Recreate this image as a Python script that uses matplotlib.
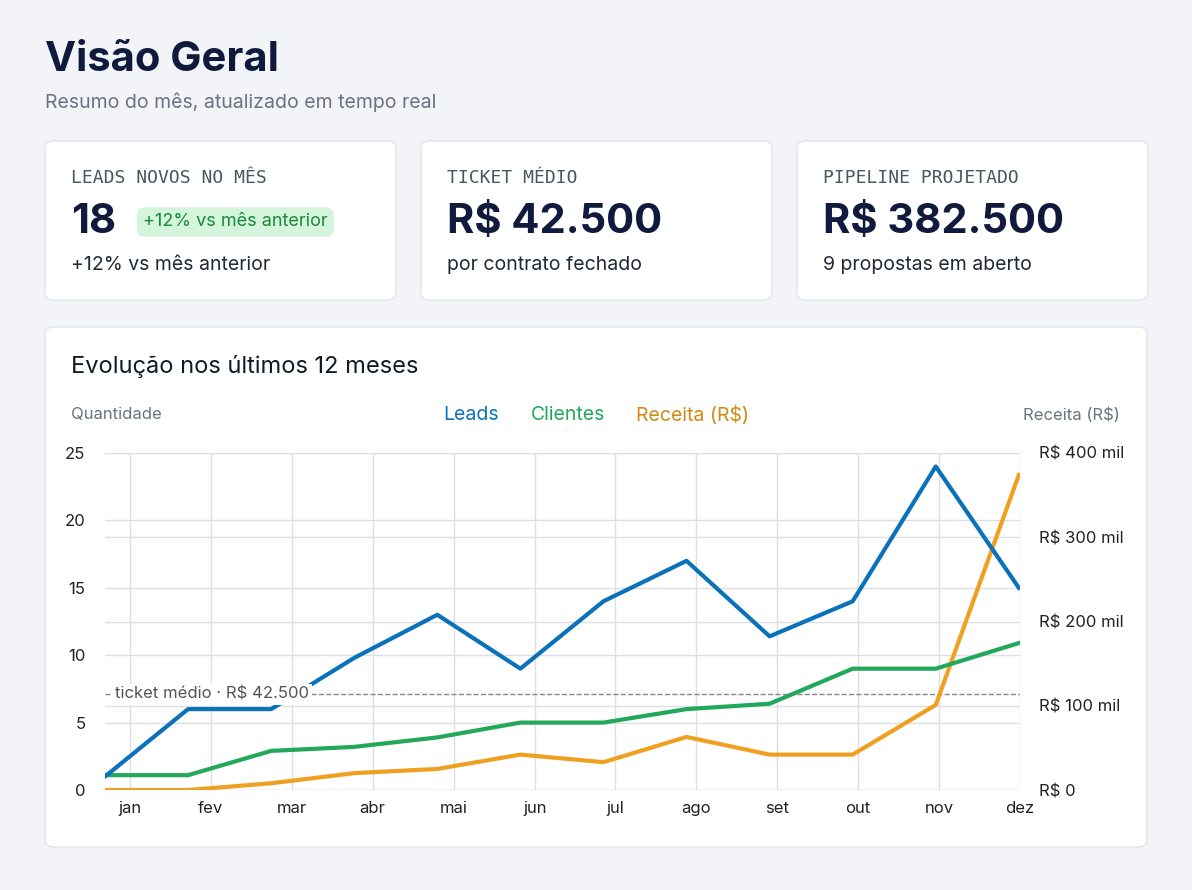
import matplotlib
matplotlib.use("Agg")
import matplotlib.pyplot as plt
from matplotlib.patches import FancyBboxPatch

plt.rcParams['font.family'] = ['Inter', 'DejaVu Sans']

months = ["jan", "fev", "mar", "abr", "mai", "jun", "jul", "ago", "set", "out", "nov", "dez"]
leads = [1, 6, 6, 9.8, 13, 9, 14, 17, 11.4, 14, 24, 15]
clientes = [1.1, 1.1, 2.9, 3.2, 3.9, 5, 5, 6, 6.4, 9, 9, 10.9]
receita_mil = [0, 0, 8, 20, 25, 42, 33, 63, 42, 42, 101, 374]
ticket_line = 7.1  # em unidades do eixo esquerdo

kpi_titles = ["LEADS NOVOS NO MÊS", "TICKET MÉDIO", "PIPELINE PROJETADO"]
kpi_values = ["18", "R$ 42.500", "R$ 382.500"]
kpi_subs = ["+12% vs mês anterior", "por contrato fechado", "9 propostas em aberto"]

W, H = 1192, 890
NAVY = "#0f1a3d"
GREY = "#6b7280"
BLUE, GREEN, ORANGE = "#0a72ba", "#22a85a", "#f0a020"

fig = plt.figure(figsize=(W / 100, H / 100), dpi=100, facecolor="#f2f4f8")

def fx(x):
    return x / W

def fy(y):
    return 1 - y / H

def card(x0, y0, x1, y1):
    fig.patches.append(FancyBboxPatch((fx(x0), fy(y1)), fx(x1 - x0), (y1 - y0) / H,
                                      boxstyle="round,pad=0,rounding_size=0.008",
                                      transform=fig.transFigure, facecolor="white",
                                      edgecolor="#e2e5ea", linewidth=1, zorder=-5))

fig.text(fx(45), fy(60), "Visão Geral", fontsize=30, fontweight="bold", color=NAVY, va="center")
fig.text(fx(45), fy(102), "Resumo do mês, atualizado em tempo real", fontsize=14, color=GREY, va="center")

for i in range(3):
    x0 = 45 + i * 376
    card(x0, 141, x0 + 351, 300)
    fig.text(fx(x0 + 26), fy(178), kpi_titles[i], fontsize=13, family="DejaVu Sans Mono", color="#4b5563", va="center")
    fig.text(fx(x0 + 26), fy(222), kpi_values[i], fontsize=30, fontweight="bold", color=NAVY, va="center")
    fig.text(fx(x0 + 26), fy(265), kpi_subs[i], fontsize=14, color="#1f2937", va="center")

fig.text(fx(143), fy(222), "+12% vs mês anterior", fontsize=13, color="#1a8a3a", va="center",
         bbox=dict(boxstyle="round,pad=0.35,rounding_size=0.5", facecolor="#d4f4dc", edgecolor="none"))

card(45, 327, 1147, 847)
fig.text(fx(71), fy(366), "Evolução nos últimos 12 meses", fontsize=17, color="#111827", va="center")
fig.text(fx(71), fy(415), "Quantidade", fontsize=12, color=GREY, va="center")
fig.text(fx(1120), fy(415), "Receita (R$)", fontsize=12, color=GREY, va="center", ha="right")
for x, lab, c in [(471, "Leads", BLUE), (568, "Clientes", GREEN), (693, "Receita (R$)", "#d08a10")]:
    fig.text(fx(x), fy(415), lab, fontsize=14, color=c, va="center", ha="center")

ax = fig.add_axes([fx(105), fy(790), fx(1020 - 105), (790 - 453) / H])
ax2 = ax.twinx()
xs = range(len(months))
ax.set_xlim(0, len(months) - 1)
ax.set_ylim(0, 25)
ax2.set_ylim(0, 400)
ax.set_yticks([0, 5, 10, 15, 20, 25])
ax2.set_yticks([0, 100, 200, 300, 400])
ax2.set_yticklabels(["R$ 0", "R$ 100 mil", "R$ 200 mil", "R$ 300 mil", "R$ 400 mil"])
# rótulos das categorias centralizados nas faixas
ax.set_xticks([0.30 + 0.974 * i for i in xs])
ax.set_xticklabels(months)
for a in (ax, ax2):
    a.set_facecolor("none")
    for s in a.spines.values():
        s.set_visible(False)
    a.tick_params(length=0, labelsize=12, colors="#222222", pad=8)
ax.grid(True, color="#dcdfe4", linewidth=1)
ax2.grid(True, axis="y", color="#dcdfe4", linewidth=1)
ax.set_zorder(ax2.get_zorder() + 1)
ax.tick_params(axis="y", pad=14)
ax2.tick_params(axis="y", pad=14)

ax.axhline(ticket_line, color="#888888", linestyle="--", linewidth=1)
ax.text(0.12, ticket_line, "ticket médio · R$ 42.500", fontsize=12, color="#555555", va="center",
        bbox=dict(facecolor="white", edgecolor="none", pad=2), zorder=6)

ax.plot(xs, leads, color=BLUE, linewidth=3, zorder=5)
ax.plot(xs, clientes, color=GREEN, linewidth=3, zorder=4)
ax.plot(xs, [v * 25 / 400 for v in receita_mil], color=ORANGE, linewidth=3, zorder=3)

fig.savefig("out.png", dpi=100, facecolor=fig.get_facecolor())
